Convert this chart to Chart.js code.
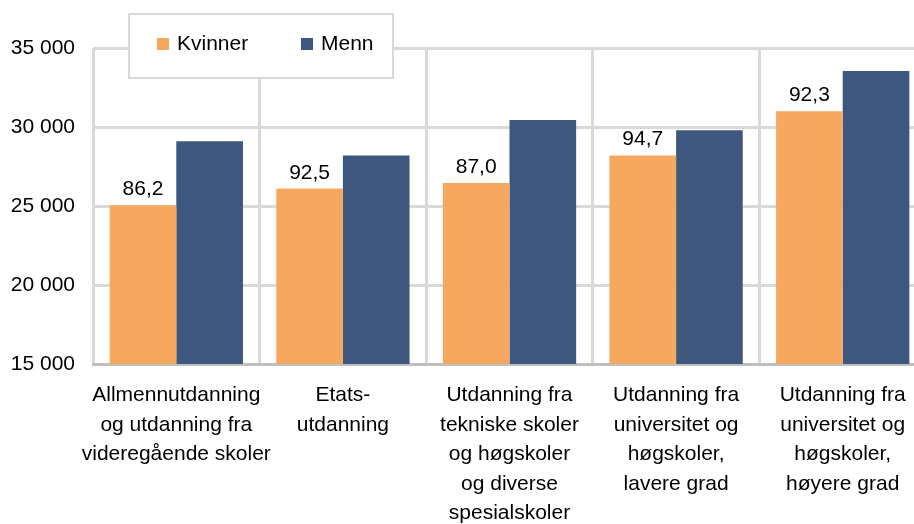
<!DOCTYPE html>
<html>
<head>
<meta charset="utf-8">
<script src="https://cdn.jsdelivr.net/npm/chart.js@4.4.0/dist/chart.umd.min.js"></script>
<style>
    body { margin: 0; overflow: hidden; background: #fff; }
    #wrap { position: absolute; left: 0; top: 0; width: 928px; height: 524px; }
</style>
</head>
<body>
<div id="wrap"><canvas id="chart"></canvas></div>
<script>
const categories = [
    ['Allmennutdanning', 'og utdanning fra', 'videregående skoler'],
    ['Etats-', 'utdanning'],
    ['Utdanning fra', 'tekniske skoler', 'og høgskoler', 'og diverse', 'spesialskoler'],
    ['Utdanning fra', 'universitet og', 'høgskoler,', 'lavere grad'],
    ['Utdanning fra', 'universitet og', 'høgskoler,', 'høyere grad']
];
const kvinner = [25050, 26100, 26450, 28200, 31000];
const menn = [29100, 28200, 30450, 29800, 33550];
const ratioLabels = ['86,2', '92,5', '87,0', '94,7', '92,3'];

const fontFamily = '"Liberation Sans", Arial, sans-serif';

function formatThousands(v) {
    return String(v).replace(/\B(?=(\d{3})+(?!\d))/g, ' ');
}

// ratio labels above the Kvinner bars
const ratioPlugin = {
    id: 'ratioLabels',
    afterDatasetsDraw(chart) {
        const ctx = chart.ctx;
        const meta = chart.getDatasetMeta(0);
        ctx.save();
        ctx.font = '21px ' + fontFamily;
        ctx.fillStyle = '#000';
        ctx.textAlign = 'center';
        ctx.textBaseline = 'alphabetic';
        meta.data.forEach((bar, i) => {
            ctx.fillText(ratioLabels[i], bar.x, bar.y - 10);
        });
        ctx.restore();
    }
};

// boxed legend sitting on top of the plot
const boxLegend = {
    id: 'boxLegend',
    afterDraw(chart) {
        const ctx = chart.ctx;
        const left = chart.chartArea.left + 36;
        const top = 14;
        ctx.save();
        ctx.fillStyle = '#fff';
        ctx.fillRect(left, top, 264, 64);
        ctx.strokeStyle = '#d9d9d9';
        ctx.lineWidth = 2;
        ctx.strokeRect(left, top, 264, 64);
        ctx.font = '21px ' + fontFamily;
        ctx.textBaseline = 'middle';
        ctx.textAlign = 'left';
        const offsets = [28, 172];
        chart.data.datasets.forEach((ds, i) => {
            const x = left + offsets[i];
            ctx.fillStyle = ds.backgroundColor;
            ctx.fillRect(x, top + 24, 12, 12);
            ctx.fillStyle = '#000';
            ctx.fillText(ds.label, x + 20, top + 30);
        });
        ctx.restore();
    }
};

new Chart(document.getElementById('chart'), {
    type: 'bar',
    data: {
        labels: categories,
        datasets: [
            { label: 'Kvinner', data: kvinner, backgroundColor: '#F5A85E' },
            { label: 'Menn', data: menn, backgroundColor: '#3E577E' }
        ]
    },
    options: {
        responsive: true,
        maintainAspectRatio: false,
        animation: false,
        layout: { padding: { top: 48, right: 2, left: 0, bottom: 0 } },
        plugins: {
            legend: { display: false },
            tooltip: { enabled: false }
        },
        datasets: {
            bar: { categoryPercentage: 0.8, barPercentage: 1.0 }
        },
        scales: {
            x: {
                grid: { color: '#d9d9d9', lineWidth: 3, drawTicks: false, offset: true },
                border: { color: '#bfbfbf', width: 3 },
                ticks: {
                    color: '#000',
                    font: { family: fontFamily, size: 21, lineHeight: 1.4 },
                    padding: 17,
                    maxRotation: 0,
                    autoSkip: false
                },
                afterFit(scale) { scale.height = 160; }
            },
            y: {
                min: 15000,
                max: 35000,
                grid: { color: '#d9d9d9', lineWidth: 3, drawTicks: false },
                border: { display: false },
                ticks: {
                    stepSize: 5000,
                    color: '#000',
                    font: { family: fontFamily, size: 21 },
                    padding: 18,
                    callback: v => formatThousands(v)
                },
                afterFit(scale) { scale.width = 93; }
            }
        }
    },
    plugins: [ratioPlugin, boxLegend]
});
</script>
</body>
</html>
